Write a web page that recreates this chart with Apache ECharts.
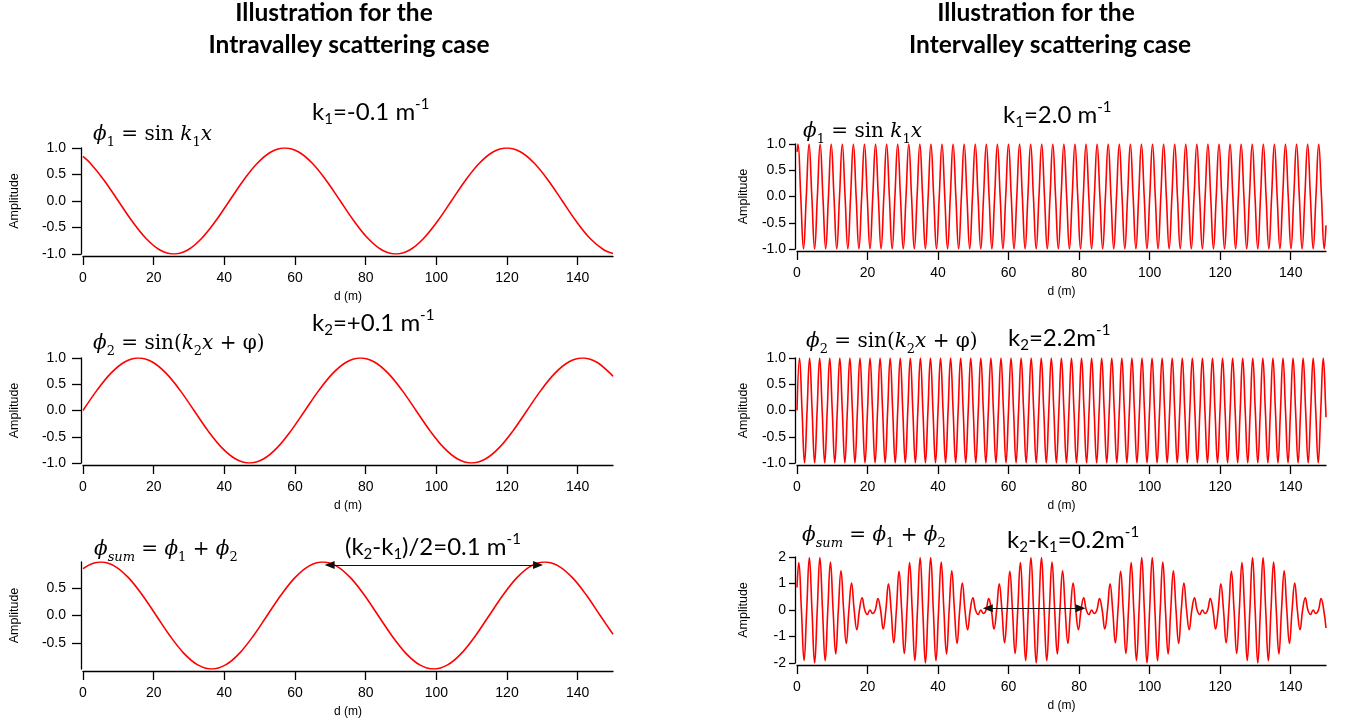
<!DOCTYPE html>
<html>
<head>
<meta charset="utf-8">
<script src="https://cdn.jsdelivr.net/npm/echarts@6/dist/echarts.min.js"></script>
<style>
  html, body { margin: 0; padding: 0; background: #fff; }
  #chart { width: 1351px; height: 723px; }
</style>
</head>
<body>
<div id="chart"></div>
<script>
// ---- axis ticks ----
const distanceTicks = [0, 20, 40, 60, 80, 100, 120, 140];
const unitTicks = [-1, -0.5, 0, 0.5, 1];
const intraSumTicks = [-0.5, 0, 0.5];
const interSumTicks = [-2, -1, 0, 1, 2];

// ---- intravalley case: slow waves, sampled every sixteenth of a period [d (m), amplitude] ----
const intraPhi1 = [
  [0, 0.84], [2.14, 0.707], [6.06, 0.383], [9.99, 0], [13.92, -0.383], [17.85, -0.707],
  [21.77, -0.924], [25.7, -1], [29.63, -0.924], [33.55, -0.707], [37.48, -0.383], [41.41, 0],
  [45.34, 0.383], [49.26, 0.707], [53.19, 0.924], [57.12, 1], [61.05, 0.924], [64.97, 0.707],
  [68.9, 0.383], [72.83, 0], [76.75, -0.383], [80.68, -0.707], [84.61, -0.924], [88.54, -1],
  [92.46, -0.924], [96.39, -0.707], [100.32, -0.383], [104.25, 0], [108.17, 0.383], [112.1, 0.707],
  [116.03, 0.924], [119.96, 1], [123.88, 0.924], [127.81, 0.707], [131.74, 0.383], [135.67, 0],
  [139.59, -0.383], [143.52, -0.707], [147.45, -0.924], [150, -0.99]
];
const intraPhi2 = [
  [0, 0], [3.93, 0.383], [7.85, 0.707], [11.78, 0.924], [15.71, 1], [19.63, 0.924],
  [23.56, 0.707], [27.49, 0.383], [31.42, 0], [35.34, -0.383], [39.27, -0.707], [43.2, -0.924],
  [47.12, -1], [51.05, -0.924], [54.98, -0.707], [58.9, -0.383], [62.83, 0], [66.76, 0.383],
  [70.69, 0.707], [74.61, 0.924], [78.54, 1], [82.47, 0.924], [86.39, 0.707], [90.32, 0.383],
  [94.25, 0], [98.17, -0.383], [102.1, -0.707], [106.03, -0.924], [109.96, -1], [113.88, -0.924],
  [117.81, -0.707], [121.74, -0.383], [125.66, 0], [129.59, 0.383], [133.52, 0.707], [137.44, 0.924],
  [141.37, 1], [145.3, 0.924], [149.23, 0.707], [150, 0.65]
];
const intraSum = [
  [0, 0.85], [2.5, 0.94], [5.0, 0.97], [8.93, 0.896], [12.85, 0.686], [16.78, 0.371], [20.71, 0],
  [24.63, -0.371], [28.56, -0.686], [32.49, -0.896], [36.42, -0.97], [40.34, -0.896], [44.27, -0.686],
  [48.2, -0.371], [52.12, 0], [56.05, 0.371], [59.98, 0.686], [63.91, 0.896], [67.83, 0.97],
  [71.76, 0.896], [75.69, 0.686], [79.61, 0.371], [83.54, 0], [87.47, -0.371], [91.4, -0.686],
  [95.32, -0.896], [99.25, -0.97], [103.18, -0.896], [107.1, -0.686], [111.03, -0.371], [114.96, 0],
  [118.89, 0.371], [122.81, 0.686], [126.74, 0.896], [130.67, 0.97], [134.59, 0.896], [138.52, 0.686],
  [142.45, 0.371], [146.37, 0], [150, -0.34]
];
// double arrow marking one beat period, [d, amplitude] of both ends
const intraArrow = [[69.8, 0.916], [128.8, 0.916]];

// ---- intervalley case: fast waves, sampled every quarter period from a start distance ----
const interPhi1Start = 0.2774, interPhi1Step = 0.78540;
const interPhi1Values = [
  1,0,-1,0, 1,0,-1,0, 1,0,-1,0, 1,0,-1,0, 1,0,-1,0, 1,0,-1,0, 1,0,-1,0, 1,0,-1,0,
  1,0,-1,0, 1,0,-1,0, 1,0,-1,0, 1,0,-1,0, 1,0,-1,0, 1,0,-1,0, 1,0,-1,0, 1,0,-1,0,
  1,0,-1,0, 1,0,-1,0, 1,0,-1,0, 1,0,-1,0, 1,0,-1,0, 1,0,-1,0, 1,0,-1,0, 1,0,-1,0,
  1,0,-1,0, 1,0,-1,0, 1,0,-1,0, 1,0,-1,0, 1,0,-1,0, 1,0,-1,0, 1,0,-1,0, 1,0,-1,0,
  1,0,-1,0, 1,0,-1,0, 1,0,-1,0, 1,0,-1,0, 1,0,-1,0, 1,0,-1,0, 1,0,-1,0, 1,0,-1,0,
  1,0,-1,0, 1,0,-1,0, 1,0,-1,0, 1,0,-1,0, 1,0,-1,0, 1,0,-1,0, 1,0,-1,0,
  1,0,-1
];
const interPhi1Ends = [[0, 0.85], [150, -0.55]];

const interPhi2Start = 0.71400, interPhi2Step = 0.71400;
const interPhi2Values = [
  1,0,-1,0, 1,0,-1,0, 1,0,-1,0, 1,0,-1,0, 1,0,-1,0, 1,0,-1,0, 1,0,-1,0, 1,0,-1,0,
  1,0,-1,0, 1,0,-1,0, 1,0,-1,0, 1,0,-1,0, 1,0,-1,0, 1,0,-1,0, 1,0,-1,0, 1,0,-1,0,
  1,0,-1,0, 1,0,-1,0, 1,0,-1,0, 1,0,-1,0, 1,0,-1,0, 1,0,-1,0, 1,0,-1,0, 1,0,-1,0,
  1,0,-1,0, 1,0,-1,0, 1,0,-1,0, 1,0,-1,0, 1,0,-1,0, 1,0,-1,0, 1,0,-1,0, 1,0,-1,0,
  1,0,-1,0, 1,0,-1,0, 1,0,-1,0, 1,0,-1,0, 1,0,-1,0, 1,0,-1,0, 1,0,-1,0, 1,0,-1,0,
  1,0,-1,0, 1,0,-1,0, 1,0,-1,0, 1,0,-1,0, 1,0,-1,0, 1,0,-1,0, 1,0,-1,0, 1,0,-1,0,
  1,0,-1,0, 1,0,-1,0, 1,0,-1,0, 1,0,-1,0,
  1,0
];
const interPhi2Ends = [[0, 0], [150, -0.13]];

const interSumStart = 0.5061, interSumStep = 0.74800;
const interSumValues = [
  1.794,0,-1.906,0,1.975,0,-2,0,1.98,0,-1.916,0,1.809,0,-1.662,0,1.478,0,-1.26,0,1.014,0,
  -0.747,0,0.462,0,-0.167,0,-0.132,0,0.428,0,-0.715,0,0.986,0,-1.235,0,1.456,0,-1.643,0,
  1.794,0,-1.906,0,1.975,0,-2,0,1.98,0,-1.916,0,1.809,0,-1.662,0,1.478,0,-1.26,0,1.014,0,
  -0.747,0,0.462,0,-0.167,0,-0.132,0,0.428,0,-0.715,0,0.986,0,-1.235,0,1.456,0,-1.643,0,
  1.794,0,-1.906,0,1.975,0,-2,0,1.98,0,-1.916,0,1.809,0,-1.662,0,1.478,0,-1.26,0,1.014,0,
  -0.747,0,0.462,0,-0.167,0,-0.132,0,0.428,0,-0.715,0,0.986,0,-1.235,0,1.456,0,-1.643,0,
  1.794,0,-1.906,0,1.975,0,-2,0,1.98,0,-1.916,0,1.809,0,-1.662,0,1.478,0,-1.26,0,1.014,0,
  -0.747,0,0.462,0,-0.167,0,-0.132,0,0.428,0,-0.715,0,0.986,0,-1.235,0,1.456,0,-1.643,0,
  1.794,0,-1.906,0,1.975,0,-2,0,1.98,0,-1.916,0,1.809,0,-1.662,0,1.478,0,-1.26,0,1.014,0,
  -0.747,0,0.462,0,-0.167,0,-0.132,0,0.428,0
];
const interSumEnds = [[0, 0.85], [150, -0.68]];
const interArrow = [[54.1, 0.064], [80.4, 0.064]];

// ---- build [d, amplitude] tables from the evenly spaced samples ----
function sampled(start, step, values, ends) {
  const pts = values.map((v, i) => [+(start + i * step).toFixed(4), v]);
  return [ends[0]].concat(pts, [ends[1]]);
}
const interPhi1 = sampled(interPhi1Start, interPhi1Step, interPhi1Values, interPhi1Ends);
const interPhi2 = sampled(interPhi2Start, interPhi2Step, interPhi2Values, interPhi2Ends);
const interSum = sampled(interSumStart, interSumStep, interSumValues, interSumEnds);

// ---- layout ----
const AXIS = '#000';
const SANS = 'Liberation Sans, Arial, sans-serif';
const panels = [
  { grid: { left: 83, top: 148, width: 530, height: 106 }, ymin: -1, ymax: 1, ticks: unitTicks, dec: 1, data: intraPhi1, smooth: 0.35, nameGap: 60, side: 'L' },
  { grid: { left: 83, top: 358, width: 530, height: 105 }, ymin: -1, ymax: 1, ticks: unitTicks, dec: 1, data: intraPhi2, smooth: 0.35, nameGap: 60, side: 'L' },
  { grid: { left: 83, top: 562, width: 530, height: 107 }, ymin: -0.97, ymax: 0.97, ticks: intraSumTicks, dec: 1, data: intraSum, smooth: 0.35, nameGap: 60, side: 'L', arrow: intraArrow },
  { grid: { left: 797, top: 144, width: 529, height: 105 }, ymin: -1, ymax: 1, ticks: unitTicks, dec: 1, data: interPhi1, smooth: 0.45, nameGap: 45, side: 'R' },
  { grid: { left: 797, top: 358, width: 529, height: 105 }, ymin: -1, ymax: 1, ticks: unitTicks, dec: 1, data: interPhi2, smooth: 0.45, nameGap: 45, side: 'R' },
  { grid: { left: 797, top: 557, width: 529, height: 106 }, ymin: -2, ymax: 2, ticks: interSumTicks, dec: 0, data: interSum, smooth: 0.45, nameGap: 45, side: 'R', arrow: interArrow }
];

const grids = [], xAxes = [], yAxes = [], series = [];
panels.forEach((p, i) => {
  grids.push(p.grid);
  const line = { show: true, onZero: false, lineStyle: { color: AXIS, width: 1.3 } };
  xAxes.push({
    type: 'value', gridIndex: i, min: 0, max: 150, offset: 2,
    axisLine: line,
    axisTick: { show: true, length: 9, customValues: distanceTicks, lineStyle: { color: AXIS, width: 1.3 } },
    axisLabel: { customValues: distanceTicks, color: '#000', fontFamily: SANS, fontSize: 14, margin: 15 },
    splitLine: { show: false },
    name: 'd (m)', nameLocation: 'middle', nameGap: 35,
    nameTextStyle: { color: '#000', fontFamily: SANS, fontSize: 12 }
  });
  yAxes.push({
    type: 'value', gridIndex: i, min: p.ymin, max: p.ymax, offset: 2,
    axisLine: line,
    axisTick: { show: true, length: p.side === 'L' ? 9 : 6, customValues: p.ticks, lineStyle: { color: AXIS, width: 1.3 } },
    axisLabel: {
      customValues: p.ticks, color: '#000', fontFamily: SANS, fontSize: 14,
      margin: p.side === 'L' ? 15 : 9,
      formatter: v => v.toFixed(p.dec)
    },
    splitLine: { show: false },
    name: 'Amplitude', nameLocation: 'middle', nameRotate: 90, nameGap: p.nameGap,
    nameTextStyle: { color: '#000', fontFamily: SANS, fontSize: 12.5 }
  });
  const s = {
    type: 'line', xAxisIndex: i, yAxisIndex: i, data: p.data,
    showSymbol: false, symbol: 'none', smooth: p.smooth,
    lineStyle: { color: '#ff0000', width: 1.6 },
    animation: false, silent: true
  };
  if (p.arrow) {
    s.markLine = {
      silent: true, animation: false,
      symbol: ['triangle', 'triangle'], symbolSize: [8, 10],
      lineStyle: { color: '#111', width: 1, type: 'solid' },
      label: { show: false },
      data: [[{ coord: p.arrow[0] }, { coord: p.arrow[1] }]]
    };
  }
  series.push(s);
});

// ---- titles, formulas and wave-number notes ----
const kRich = {
  n: { fontFamily: 'Lato, sans-serif', fontSize: 24, lineHeight: 30, color: '#000' },
  b: { fontFamily: 'Lato, sans-serif', fontSize: 15, lineHeight: 15, verticalAlign: 'bottom', color: '#000' },
  p: { fontFamily: 'Lato, sans-serif', fontSize: 15, lineHeight: 15, verticalAlign: 'top', color: '#000' }
};
const SERIF = 'DejaVu Serif, serif';
const fRich = {
  v: { fontFamily: SERIF, fontStyle: 'italic', fontSize: 20, lineHeight: 28, color: '#000' },
  r: { fontFamily: SERIF, fontSize: 20, lineHeight: 28, color: '#000' },
  s: { fontFamily: SERIF, fontSize: 13, lineHeight: 13, verticalAlign: 'bottom', color: '#000' },
  si: { fontFamily: SERIF, fontStyle: 'italic', fontSize: 13, lineHeight: 13, verticalAlign: 'bottom', color: '#000' }
};
function txt(x, y, text, rich, align) {
  return {
    type: 'text', x: x, y: y, silent: true,
    style: { text: text, rich: rich, align: align || 'left', verticalAlign: 'middle' }
  };
}
const titleFont = { t: { fontFamily: 'Lato, sans-serif', fontWeight: 'bold', fontSize: 24.5, lineHeight: 30, color: '#000' } };
const graphics = [
  txt(334, 13, '{t|Illustration for the}', titleFont, 'center'),
  txt(349, 45, '{t|Intravalley scattering case}', titleFont, 'center'),
  txt(1036, 13, '{t|Illustration for the}', titleFont, 'center'),
  txt(1050, 45, '{t|Intervalley scattering case}', titleFont, 'center'),

  txt(93, 135, '{v|ϕ}{s|1}{r| = sin }{v|k}{s|1}{v|x}', fRich),
  txt(93, 344, '{v|ϕ}{s|2}{r| = sin(}{v|k}{s|2}{v|x}{r| + φ)}', fRich),
  txt(94, 550, '{v|ϕ}{si|sum}{r| = }{v|ϕ}{s|1}{r| + }{v|ϕ}{s|2}', fRich),
  txt(803, 132, '{v|ϕ}{s|1}{r| = sin }{v|k}{s|1}{v|x}', fRich),
  txt(806, 342, '{v|ϕ}{s|2}{r| = sin(}{v|k}{s|2}{v|x}{r| + φ)}', fRich),
  txt(802, 536, '{v|ϕ}{si|sum}{r| = }{v|ϕ}{s|1}{r| + }{v|ϕ}{s|2}', fRich),

  txt(312, 112, '{n|k}{b|1}{n|=-0.1 m}{p|-1}', kRich),
  txt(312, 323, '{n|k}{b|2}{n|=+0.1 m}{p|-1}', kRich),
  txt(345, 547, '{n|(k}{b|2}{n|-k}{b|1}{n|)/2=0.1 m}{p|-1}', kRich),
  txt(1003, 115, '{n|k}{b|1}{n|=2.0 m}{p|-1}', kRich),
  txt(1008, 338, '{n|k}{b|2}{n|=2.2m}{p|-1}', kRich),
  txt(1007, 540, '{n|k}{b|2}{n|-k}{b|1}{n|=0.2m}{p|-1}', kRich)
];

const chart = echarts.init(document.getElementById('chart'), null, { renderer: 'canvas' });
chart.setOption({
  backgroundColor: '#fff',
  animation: false,
  grid: grids,
  xAxis: xAxes,
  yAxis: yAxes,
  series: series,
  graphic: graphics
});
</script>
</body>
</html>
